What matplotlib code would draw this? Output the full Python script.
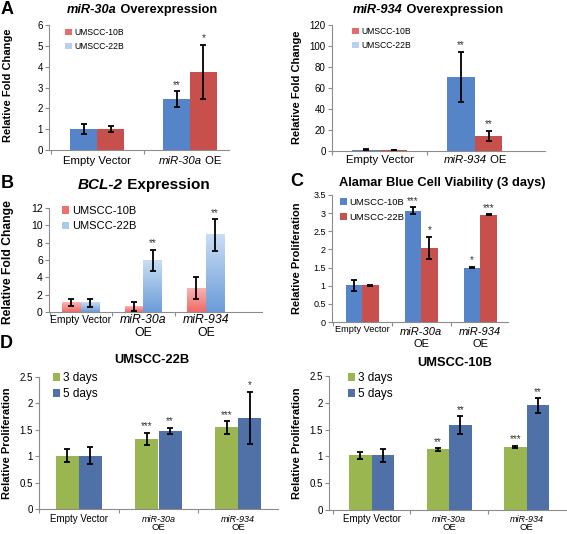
import numpy as np
import matplotlib
matplotlib.use('Agg')
import matplotlib.pyplot as plt
import matplotlib.transforms as mtransforms
from matplotlib.patches import Patch
from matplotlib.offsetbox import TextArea, HPacker, AnnotationBbox
from matplotlib.colors import LinearSegmentedColormap

plt.rcParams['font.family'] = ['Liberation Sans', 'DejaVu Sans']

W, H = 567, 534

# ---- data ----
groups2 = ['Empty Vector', 'miR-30a OE']

# A left: miR-30a overexpression (relative fold change)
a1_22b = [1.0, 2.45]
a1_22b_err = [0.24, 0.38]
a1_22b_sig = ['', '**']
a1_10b = [1.0, 3.75]
a1_10b_err = [0.14, 1.3]
a1_10b_sig = ['', '*']

# A right: miR-934 overexpression
a2_22b = [1.0, 70.7]
a2_22b_err = [0.5, 24.0]
a2_22b_sig = ['', '**']
a2_10b = [1.0, 14.3]
a2_10b_err = [0.4, 4.8]
a2_10b_sig = ['', '**']

# B: BCL-2 expression
b_10b = [1.05, 0.65, 2.75]
b_10b_err = [0.4, 0.48, 1.25]
b_10b_sig = ['', '', '']
b_22b = [1.05, 5.95, 8.9]
b_22b_err = [0.5, 1.25, 1.83]
b_22b_sig = ['', '**', '**']

# C: Alamar blue 3 days
c_10b = [1.01, 3.07, 1.5]
c_10b_err = [0.16, 0.1, 0.02]
c_10b_sig = ['', '***', '*']
c_22b = [1.01, 2.04, 2.96]
c_22b_err = [0.02, 0.31, 0.01]
c_22b_sig = ['', '*', '***']

# D: UMSCC-22B proliferation
d22_3d = [1.01, 1.33, 1.545]
d22_3d_err = [0.12, 0.115, 0.12]
d22_3d_sig = ['', '***', '***']
d22_5d = [1.01, 1.48, 1.73]
d22_5d_err = [0.16, 0.055, 0.49]
d22_5d_sig = ['', '**', '*']

# D: UMSCC-10B proliferation
d10_3d = [1.02, 1.13, 1.18]
d10_3d_err = [0.07, 0.02, 0.02]
d10_3d_sig = ['', '**', '***']
d10_5d = [1.02, 1.58, 1.95]
d10_5d_err = [0.12, 0.17, 0.135]
d10_5d_sig = ['', '**', '**']

GRAY = '#8c8c8c'
BLUE = '#5585c8'
RED = '#c8504c'
GREEN = '#9ab650'
SLATE = '#4f71a8'

fig = plt.figure(figsize=(W / 100, H / 100), dpi=100)


def make_ax(x0, x1, ytop, ybot, xlim, ylim, yticks, ncat, ysize):
    ax = fig.add_axes([x0 / W, 1 - ybot / H, (x1 - x0) / W, (ybot - ytop) / H])
    ax.set_xlim(xlim)
    ax.set_ylim(ylim)
    ax.set_yticks(yticks)
    ax.set_yticklabels(['%g' % t for t in yticks])
    ax.set_xticks(np.arange(ncat) - 0.5)
    ax.tick_params(axis='x', length=3, color=GRAY, labelbottom=False)
    ax.tick_params(axis='y', length=3, color=GRAY, labelsize=ysize, pad=1.5)
    for s in ['top', 'right']:
        ax.spines[s].set_visible(False)
    for s in ['left', 'bottom']:
        ax.spines[s].set_color(GRAY)
        ax.spines[s].set_linewidth(0.8)
    return ax


def bars(ax, vals, errs, sigs, offset, width, color):
    x = np.arange(len(vals)) + offset
    b = ax.bar(x, vals, width, color=color, zorder=2, yerr=errs,
               error_kw=dict(ecolor='black', elinewidth=1.3, capsize=2.3,
                             capthick=1.3, zorder=5))
    for xi, v, e, s in zip(x, vals, errs, sigs):
        if s:
            ax.annotate(s, (xi, v + e), xytext=(0, 1), textcoords='offset points',
                        ha='center', va='bottom', fontsize=7, color='#333333')
    return b


def gradient(ax, patches, light, dark):
    cm = LinearSegmentedColormap.from_list('g', [light, dark])
    for p in patches:
        x0 = p.get_x()
        ax.imshow(np.linspace(0, 1, 64).reshape(-1, 1), cmap=cm, aspect='auto',
                  extent=[x0, x0 + p.get_width(), 0, p.get_height()], zorder=3)


def legend(ax, items, x, ytop, size, spacing, hl=0.75):
    handles = [Patch(facecolor=c, edgecolor='none', label=l) for l, c in items]
    ax.legend(handles=handles, loc='upper left', bbox_to_anchor=(x / W, 1 - ytop / H),
              bbox_transform=fig.transFigure, frameon=False, fontsize=size,
              handlelength=hl, handleheight=hl, handletextpad=0.25,
              labelspacing=spacing, borderpad=0, borderaxespad=0)


def rich(parts, x, y, size, ax=None):
    boxes = [TextArea(t, textprops=dict(fontsize=size, fontweight=w, fontstyle=st))
             for t, w, st in parts]
    box = HPacker(children=boxes, align='baseline', pad=0, sep=0)
    if ax is None:
        trans, xy = fig.transFigure, (x / W, 1 - y / H)
    else:
        trans = mtransforms.blended_transform_factory(ax.transData, fig.transFigure)
        xy = (x, 1 - y / H)
    ab = AnnotationBbox(box, xy, xycoords=trans, frameon=False, pad=0,
                        box_alignment=(0.5, 0.5), annotation_clip=False)
    fig.add_artist(ab)


def ftext(x, y, s, size, **kw):
    fig.text(x / W, 1 - y / H, s, fontsize=size, ha='center', va='center', **kw)


# ---- panel A left ----
ax = make_ax(49, 229, 25, 150, (-0.52, 1.42), (0, 6), range(0, 7), 2, 7)
bars(ax, a1_22b, a1_22b_err, a1_22b_sig, -0.145, 0.29, BLUE)
bars(ax, a1_10b, a1_10b_err, a1_10b_sig, 0.145, 0.29, RED)
legend(ax, [('UMSCC-10B', '#e46c6a'), ('UMSCC-22B', '#b7d0ee')], 65, 28, 6.2, 0.6, 0.8)
rich([('Empty Vector', 'normal', 'normal')], 0, 161, 8.2, ax)
rich([('miR-30a', 'normal', 'italic'), (' OE', 'normal', 'normal')], 1, 161, 8.2, ax)
rich([('miR-30a', 'bold', 'italic'), (' Overexpression', 'bold', 'normal')], 142, 10, 9.2)
ftext(8, 85, 'Relative Fold Change', 8, rotation=90, fontweight='bold')

# ---- panel A right ----
ax = make_ax(332, 545, 25, 151, (-0.505, 1.74), (0, 120), range(0, 121, 20), 2, 7)
bars(ax, a2_22b, a2_22b_err, a2_22b_sig, -0.145, 0.29, BLUE)
bars(ax, a2_10b, a2_10b_err, a2_10b_sig, 0.145, 0.29, RED)
legend(ax, [('UMSCC-10B', '#e46c6a'), ('UMSCC-22B', '#b7d0ee')], 352, 27, 6.2, 0.6, 0.8)
rich([('Empty Vector', 'normal', 'normal')], 0, 160, 8.2, ax)
rich([('miR-934', 'normal', 'italic'), (' OE', 'normal', 'normal')], 1, 160, 8.2, ax)
rich([('miR-934', 'bold', 'italic'), (' Overexpression', 'bold', 'normal')], 428, 10, 9.2)
ftext(297, 87, 'Relative Fold Change', 8, rotation=90, fontweight='bold')

# ---- panel B ----
ax = make_ax(49, 262, 208, 312, (-0.51, 2.9), (0, 12), range(0, 13, 2), 3, 7.5)
br = bars(ax, b_10b, b_10b_err, b_10b_sig, -0.15, 0.3, '#f28a88')
bb = bars(ax, b_22b, b_22b_err, b_22b_sig, 0.15, 0.3, '#9cc0e8')
gradient(ax, br, '#f8b4b2', '#ee6a68')
gradient(ax, bb, '#c8ddf4', '#6c9cd8')
ax.set_xlim(-0.51, 2.9)
ax.set_ylim(0, 12)
legend(ax, [('UMSCC-10B', '#f07070'), ('UMSCC-22B', '#a8c8ee')], 62, 206, 8, 0.47, 0.65)
rich([('Empty Vector', 'normal', 'normal')], 0, 320, 7.4, ax)
rich([('miR-30a', 'normal', 'italic')], 1, 320, 8.8, ax)
rich([('OE', 'normal', 'normal')], 1, 333, 8.8, ax)
rich([('miR-934', 'normal', 'italic')], 2, 320, 8.8, ax)
rich([('OE', 'normal', 'normal')], 2, 333, 8.8, ax)
rich([('BCL-2', 'bold', 'italic'), (' Expression', 'bold', 'normal')], 144, 185, 11)
ftext(8, 262, 'Relative Fold Change', 8.7, rotation=90, fontweight='bold')

# ---- panel C ----
ax = make_ax(332, 508, 195, 322, (-0.51, 2.47), (0, 3.5), np.arange(0, 3.51, 0.5), 3, 6.5)
bars(ax, c_10b, c_10b_err, c_10b_sig, -0.14, 0.28, BLUE)
bars(ax, c_22b, c_22b_err, c_22b_sig, 0.14, 0.28, RED)
legend(ax, [('UMSCC-10B', BLUE), ('UMSCC-22B', RED)], 340, 198, 6.8, 0.65, 0.75)
rich([('Empty Vector', 'normal', 'normal')], 0, 329, 6.6, ax)
rich([('miR-30a', 'normal', 'italic')], 1, 332, 8, ax)
rich([('OE', 'normal', 'normal')], 1, 344, 8, ax)
rich([('miR-934', 'normal', 'italic')], 2, 332, 8, ax)
rich([('OE', 'normal', 'normal')], 2, 344, 8, ax)
rich([('Alamar Blue Cell Viability (3 days)', 'bold', 'normal')], 442, 183, 9.3)
ftext(297, 258, 'Relative Proliferation', 8, rotation=90, fontweight='bold')

# ---- panel D left (UMSCC-22B) ----
ax = make_ax(39, 278, 377, 509, (-0.49, 2.5), (0, 2.5), np.arange(0, 2.51, 0.5), 3, 7)
bars(ax, d22_3d, d22_3d_err, d22_3d_sig, -0.145, 0.29, GREEN)
bars(ax, d22_5d, d22_5d_err, d22_5d_sig, 0.145, 0.29, SLATE)
legend(ax, [('3 days', GREEN), ('5 days', SLATE)], 53, 372, 8.5, 0.37, 0.6)
rich([('Empty Vector', 'normal', 'normal')], 0, 519, 7, ax)
rich([('miR-30a', 'normal', 'italic')], 1, 519, 6.5, ax)
rich([('OE', 'normal', 'normal')], 1, 528, 6.8, ax)
rich([('miR-934', 'normal', 'italic')], 2, 519, 6.5, ax)
rich([('OE', 'normal', 'normal')], 2, 528, 6.8, ax)
rich([('UMSCC-22B', 'bold', 'normal')], 152, 360, 9.3)
ftext(7, 443, 'Relative Proliferation', 8, rotation=90, fontweight='bold')

# ---- panel D right (UMSCC-10B) ----
ax = make_ax(329, 566, 376, 510, (-0.55, 2.51), (0, 2.5), np.arange(0, 2.51, 0.5), 3, 7)
bars(ax, d10_3d, d10_3d_err, d10_3d_sig, -0.145, 0.29, GREEN)
bars(ax, d10_5d, d10_5d_err, d10_5d_sig, 0.145, 0.29, SLATE)
legend(ax, [('3 days', GREEN), ('5 days', SLATE)], 348, 372, 8.5, 0.37, 0.6)
rich([('Empty Vector', 'normal', 'normal')], 0, 519, 7, ax)
rich([('miR-30a', 'normal', 'italic')], 1, 519, 6.5, ax)
rich([('OE', 'normal', 'normal')], 1, 528, 6.8, ax)
rich([('miR-934', 'normal', 'italic')], 2, 519, 6.5, ax)
rich([('OE', 'normal', 'normal')], 2, 528, 6.8, ax)
rich([('UMSCC-10B', 'bold', 'normal')], 455, 363, 9.3)
ftext(297, 443, 'Relative Proliferation', 8, rotation=90, fontweight='bold')

# panel letters
for letter, x, y in [('A', 7, 9), ('B', 7, 183), ('C', 297, 182), ('D', 6, 343)]:
    ftext(x, y, letter, 13, fontweight='bold')

fig.savefig('out.png', dpi=100, facecolor='white')
